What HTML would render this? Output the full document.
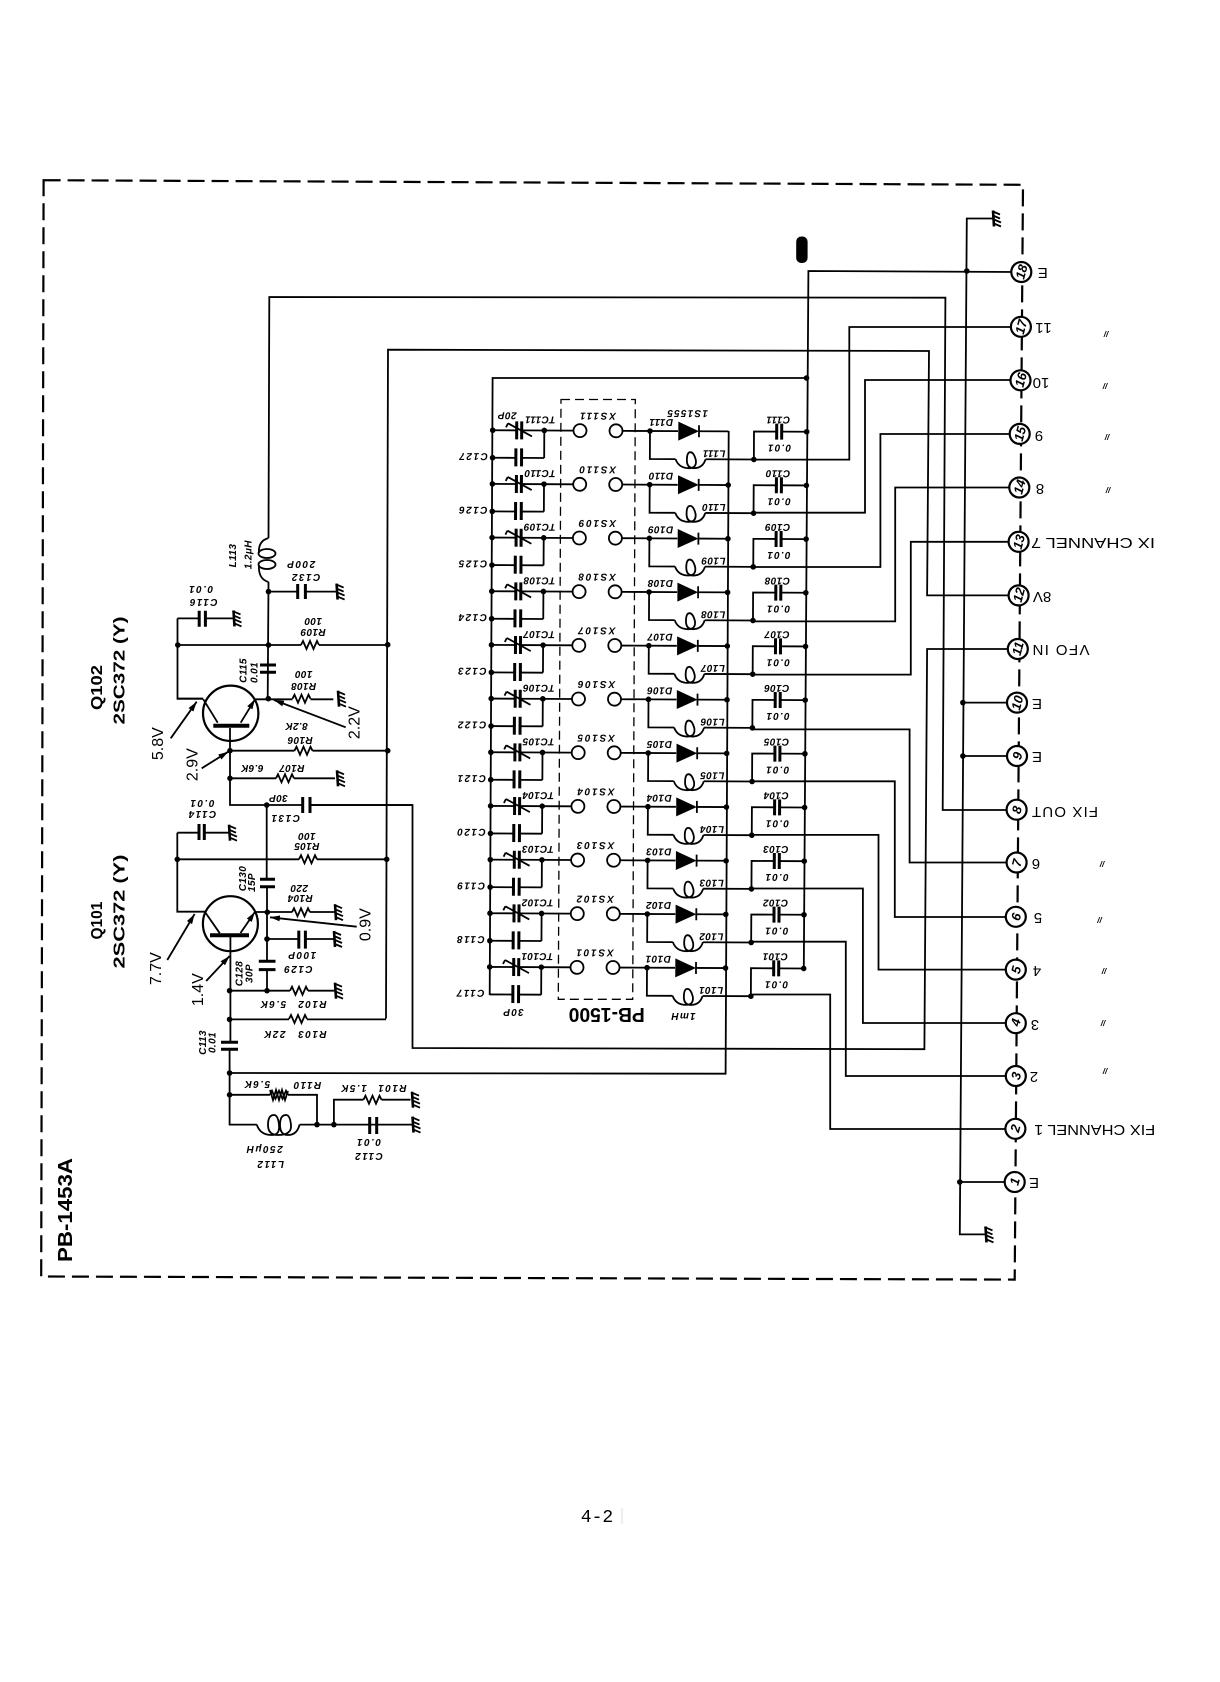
<!DOCTYPE html>
<html><head><meta charset="utf-8"><style>
html,body{margin:0;padding:0;background:#fff;width:1220px;height:1682px;overflow:hidden}
svg{display:block}
text{font-family:"Liberation Sans",sans-serif;fill:#000;text-anchor:middle}
.u,.v,.r{transform-box:fill-box;transform-origin:center}
.u{transform:rotate(180deg)}
.v{transform:rotate(-90deg)}
.r{transform:rotate(-75deg)}
.s{font-size:10px;font-style:italic;font-weight:bold;letter-spacing:.4px}
.x{letter-spacing:1.8px}
.z{letter-spacing:1.2px}
.c{letter-spacing:1.5px}
.t{font-size:13px;font-style:italic;font-weight:bold}
.l{font-size:15px}
.m{font-size:8px;font-style:italic;font-weight:bold}
.b{font-size:16px}
.w{fill:none;stroke:#000;stroke-width:1.8}
.p{fill:none;stroke:#000;stroke-width:3}
</style></head><body>
<svg width="1220" height="1682" viewBox="0 0 1220 1682" xmlns="http://www.w3.org/2000/svg">
<defs>
<marker id="a" viewBox="0 0 10 6" refX="10" refY="3" markerWidth="10" markerHeight="6" markerUnits="userSpaceOnUse" orient="auto"><path d="M0 0L10 3L0 6z"/></marker>
<g id="d"><circle r="2.8" fill="#000"/></g>
<g id="res"><rect x="-9" y="-2" width="18" height="4" fill="#fff"/><path class="w" d="M-9 0L-7 -4L-3.5 4L0 -4L3.5 4L7 -4L9 0"/></g>
<g id="g"><path fill="none" stroke="#000" stroke-width="2.6" d="M0 -8L1 8"/><path fill="none" stroke="#000" stroke-width="1.8" d="M0 -7l7 3M0 -3l7 3M1 1l7 3M1 5l7 3"/></g>
<g id="row">
<path class="w" d="M492.7 431H516.7M521.7 431H573.5M544.3 431V458.5M492.7 458.5H516M521.7 458.5H544.3M622.5 431H678M699 431H728.5M650 431V459H675.7M705.7 459H754V431H776.7M781.7 431H806.7"/>
<path class="w" d="M675.7 459Q679 468 689 468Q697 468 696 460Q694 452 690.5 452Q687 452 687 460Q687 468 694 468Q703 468 705.7 459"/>
<path class="p" d="M516.7 422V440M521.7 422V440M516 449V467M521.7 449V467M776.7 423V439M781.7 423V439"/>
<path class="w" d="M532 437L508 424M508 424L506 428"/>
<circle cx="580" cy="431" r="6.5" fill="#fff" stroke="#000" stroke-width="1.8"/>
<circle cx="616" cy="431" r="6.5" fill="#fff" stroke="#000" stroke-width="1.8"/>
<path d="M678.3 421.5L699 431L678.3 440.5z"/><path class="w" d="M699 425V437"/>
<use href="#d" x="492.7" y="431"/><use href="#d" x="544.3" y="431"/><use href="#d" x="650" y="431"/><use href="#d" x="754" y="459"/><use href="#d" x="806.7" y="431"/>
</g>
<g id="dr"><use href="#d" x="728.5" y="431"/></g>
<g id="db"><use href="#d" x="492.7" y="458.5"/></g>
</defs>

<!-- border -->
<path fill="none" stroke="#000" stroke-width="2.2" stroke-dasharray="17 7" d="M43.6 180.2L1023 184.8L1014.7 1279.6L41.2 1276.5Z"/>
<!-- PB-1500 box -->
<path fill="none" stroke="#000" stroke-width="1.3" stroke-dasharray="9 5" d="M561 399.5H635.3L632.7 999.3H558.3Z"/>

<!-- nets -->
<path class="w" d="M1021 272L808.4 271L803.8 968.5M806.5 378H492.6L489.7 995"/>
<path class="w" d="M1021 327H849.3V459.6H754M1020 380H865V512.7H754M1020 434H880.4V567H754M1019 487.5H895.2V621.4H754M1018 541.8H910.8V674.6H753M1016 862.5H909.6V729.4H752.5M1016 917H894.8V781.3H752M1016 969.6H878.5V834.9H752M1016 1023H862.9V888.5H751.5M1016 1076H845.8V941.7H751M1015 1129H830.2V994.5H751"/>
<path class="w" d="M1016.6 810H942.7L945.4 297.7L269.3 297L268.5 538M1018 595.4H927.1L929 351L388 349.7L386 1018.6M1018 649H927.1L924.4 1049.2L412.5 1048V805H310"/>
<path class="w" d="M728.7 431L725.6 1073.7L229.6 1073M993 218.5H966.8L959.8 1234.4H985.5M1017 702.6H962.9M1017 756H962.9M1015 1182H959.8"/>
<use href="#g" x="993" y="218.5"/><use href="#g" x="985.5" y="1234.4"/>
<use href="#d" x="966.8" y="271"/><use href="#d" x="962.9" y="702.6"/><use href="#d" x="962.9" y="756"/><use href="#d" x="959.8" y="1182"/><use href="#d" x="806.5" y="378"/>
<rect x="796.2" y="236.5" width="11.4" height="26.5" rx="5"/>

<!-- rows -->
<g transform="rotate(.28 650 431)"><use href="#row"/><use href="#db"/>
<text class="s u" x="540" y="422">TC111</text><text class="s x u" x="598" y="418">XS111</text><text class="s u" x="661" y="424">D111</text><text class="s u" x="714" y="455">L111</text><text class="s u" x="778" y="421">C111</text><text class="s z u" x="779" y="449">0.01</text><text class="s c u" x="473" y="459">C127</text><text class="s u" x="508" y="418">20P</text><text class="s z u" x="687" y="415">1S1555</text></g>
<g transform="translate(-.3 53.67) rotate(.28 650 431)"><use href="#row"/><use href="#db"/><use href="#dr"/>
<text class="s u" x="540" y="422">TC110</text><text class="s x u" x="598" y="418">XS110</text><text class="s u" x="661" y="424">D110</text><text class="s u" x="714" y="455">L110</text><text class="s u" x="778" y="421">C110</text><text class="s z u" x="779" y="449">0.01</text><text class="s c u" x="473" y="459">C126</text></g>
<g transform="translate(-.6 107.34) rotate(.28 650 431)"><use href="#row"/><use href="#db"/><use href="#dr"/>
<text class="s u" x="540" y="422">TC109</text><text class="s x u" x="598" y="418">XS109</text><text class="s u" x="661" y="424">D109</text><text class="s u" x="714" y="455">L109</text><text class="s u" x="778" y="421">C109</text><text class="s z u" x="779" y="449">0.01</text><text class="s c u" x="473" y="459">C125</text></g>
<g transform="translate(-.9 161) rotate(.28 650 431)"><use href="#row"/><use href="#db"/><use href="#dr"/>
<text class="s u" x="540" y="422">TC108</text><text class="s x u" x="598" y="418">XS108</text><text class="s u" x="661" y="424">D108</text><text class="s u" x="714" y="455">L108</text><text class="s u" x="778" y="421">C108</text><text class="s z u" x="779" y="449">0.01</text><text class="s c u" x="473" y="459">C124</text></g>
<g transform="translate(-1.2 214.68) rotate(.28 650 431)"><use href="#row"/><use href="#db"/><use href="#dr"/>
<text class="s u" x="540" y="422">TC107</text><text class="s x u" x="598" y="418">XS107</text><text class="s u" x="661" y="424">D107</text><text class="s u" x="714" y="455">L107</text><text class="s u" x="778" y="421">C107</text><text class="s z u" x="779" y="449">0.01</text><text class="s c u" x="473" y="459">C123</text></g>
<g transform="translate(-1.5 268.35) rotate(.28 650 431)"><use href="#row"/><use href="#db"/><use href="#dr"/>
<text class="s u" x="540" y="422">TC106</text><text class="s x u" x="598" y="418">XS106</text><text class="s u" x="661" y="424">D106</text><text class="s u" x="714" y="455">L106</text><text class="s u" x="778" y="421">C106</text><text class="s z u" x="779" y="449">0.01</text><text class="s c u" x="473" y="459">C122</text></g>
<g transform="translate(-1.8 322) rotate(.28 650 431)"><use href="#row"/><use href="#db"/><use href="#dr"/>
<text class="s u" x="540" y="422">TC105</text><text class="s x u" x="598" y="418">XS105</text><text class="s u" x="661" y="424">D105</text><text class="s u" x="714" y="455">L105</text><text class="s u" x="778" y="421">C105</text><text class="s z u" x="779" y="449">0.01</text><text class="s c u" x="473" y="459">C121</text></g>
<g transform="translate(-2.1 375.7) rotate(.28 650 431)"><use href="#row"/><use href="#db"/><use href="#dr"/>
<text class="s u" x="540" y="422">TC104</text><text class="s x u" x="598" y="418">XS104</text><text class="s u" x="661" y="424">D104</text><text class="s u" x="714" y="455">L104</text><text class="s u" x="778" y="421">C104</text><text class="s z u" x="779" y="449">0.01</text><text class="s c u" x="473" y="459">C120</text></g>
<g transform="translate(-2.4 429.4) rotate(.28 650 431)"><use href="#row"/><use href="#db"/><use href="#dr"/>
<text class="s u" x="540" y="422">TC103</text><text class="s x u" x="598" y="418">XS103</text><text class="s u" x="661" y="424">D103</text><text class="s u" x="714" y="455">L103</text><text class="s u" x="778" y="421">C103</text><text class="s z u" x="779" y="449">0.01</text><text class="s c u" x="473" y="459">C119</text></g>
<g transform="translate(-2.7 483) rotate(.28 650 431)"><use href="#row"/><use href="#db"/><use href="#dr"/>
<text class="s u" x="540" y="422">TC102</text><text class="s x u" x="598" y="418">XS102</text><text class="s u" x="661" y="424">D102</text><text class="s u" x="714" y="455">L102</text><text class="s u" x="778" y="421">C102</text><text class="s z u" x="779" y="449">0.01</text><text class="s c u" x="473" y="459">C118</text></g>
<g transform="translate(-3 536.7) rotate(.28 650 431)"><use href="#row"/><use href="#dr"/>
<text class="s u" x="540" y="422">TC101</text><text class="s x u" x="598" y="418">XS101</text><text class="s u" x="661" y="424">D101</text><text class="s u" x="714" y="455">L101</text><text class="s u" x="778" y="421">C101</text><text class="s z u" x="779" y="449">0.01</text><text class="s c u" x="473" y="459">C117</text></g>
<text class="s z u" x="513" y="1014">30P</text>
<text class="s z u" x="683" y="1018">1mH</text>
<text class="u" x="606.7" y="1020" font-size="20" font-weight="bold" textLength="76" lengthAdjust="spacingAndGlyphs">PB-1500</text>

<!-- terminals -->
<g fill="#fff" stroke="#000" stroke-width="2.2">
<circle cx="1021.3" cy="272" r="10"/><circle cx="1020.9" cy="326.8" r="10"/><circle cx="1020.5" cy="380.3" r="10"/><circle cx="1019.7" cy="433.9" r="10"/><circle cx="1019.3" cy="487.5" r="10"/><circle cx="1018.6" cy="541.8" r="10"/><circle cx="1018.6" cy="595.4" r="10"/><circle cx="1017.8" cy="649" r="10"/><circle cx="1017" cy="702.6" r="10"/><circle cx="1017" cy="756" r="10"/><circle cx="1016.6" cy="809.7" r="10"/><circle cx="1016.6" cy="862.5" r="10"/><circle cx="1015.8" cy="916.8" r="10"/><circle cx="1015.8" cy="969.6" r="10"/><circle cx="1015.8" cy="1023.2" r="10"/><circle cx="1015.8" cy="1076" r="10"/><circle cx="1015.4" cy="1128.8" r="10"/><circle cx="1014.7" cy="1182" r="10"/>
</g>
<text class="t r" x="1021.3" y="276">18</text><text class="t r" x="1020.9" y="331">17</text><text class="t r" x="1020.5" y="384">16</text><text class="t r" x="1019.7" y="438">15</text><text class="t r" x="1019.3" y="491">14</text><text class="t r" x="1018.6" y="546">13</text><text class="t r" x="1018.6" y="599">12</text><text class="t r" x="1017.8" y="653">11</text><text class="t r" x="1017" y="707">10</text><text class="t r" x="1017" y="760">9</text><text class="t r" x="1016.6" y="814">8</text><text class="t r" x="1016.6" y="867">7</text><text class="t r" x="1015.8" y="921">6</text><text class="t r" x="1015.8" y="974">5</text><text class="t r" x="1015.8" y="1027">4</text><text class="t r" x="1015.8" y="1080">3</text><text class="t r" x="1015.4" y="1133">2</text><text class="t r" x="1014.7" y="1186">1</text>

<text class="l u" x="1042.7" y="277">E</text><text class="l u" x="1043" y="332" letter-spacing="1">11</text><text class="l u" x="1041" y="387">10</text><text class="l u" x="1039" y="440">9</text><text class="l u" x="1040" y="493">8</text>
<text class="l u" x="1093" y="547" textLength="124" lengthAdjust="spacingAndGlyphs">IX  CHANNEL 7</text>
<text class="l u" x="1042" y="601">8V</text>
<text class="l u" x="1061" y="654" textLength="57" lengthAdjust="spacing">VFO IN</text>
<text class="l u" x="1037" y="708">E</text><text class="l u" x="1037" y="761">E</text>
<text class="l u" x="1065" y="816" textLength="66" lengthAdjust="spacing">FIX OUT</text>
<text class="l u" x="1036" y="868">6</text><text class="l u" x="1038" y="922">5</text><text class="l u" x="1037" y="975">4</text><text class="l u" x="1035" y="1029">3</text><text class="l u" x="1034" y="1081">2</text>
<text class="l u" x="1094.7" y="1134" textLength="121" lengthAdjust="spacingAndGlyphs">FIX CHANNEL 1</text>
<text class="l u" x="1034" y="1187">E</text>
<text class="m" x="1106" y="337">//</text><text class="m" x="1105" y="389">//</text><text class="m" x="1107" y="440">//</text><text class="m" x="1108" y="493">//</text><text class="m" x="1102" y="867">//</text><text class="m" x="1099.5" y="923">//</text><text class="m" x="1104" y="974">//</text><text class="m" x="1103" y="1026">//</text><text class="m" x="1105" y="1074">//</text>

<!-- Q102 stage -->
<path class="w" d="M268.5 582L267.7 698.7M177.8 645H387.7M177.5 618.4V698.7H203M268.5 591.6H297.7M305.4 591.6H336M177.5 618.4H199.2M205.4 618.4H233.5"/>
<path class="w" d="M268.5 538Q258 541 259 553M259 565Q258 579 268.5 582"/>
<ellipse class="w" cx="267" cy="553.5" rx="8.5" ry="4.5"/><ellipse class="w" cx="267" cy="564.5" rx="8.5" ry="4.5"/>
<path class="p" d="M297.7 584V599M305.4 584V599M199.2 610.7V626.8M205.4 610.7V626.8M260 665H276M260 672.3H276"/>
<use href="#d" x="268.5" y="591.6"/><use href="#d" x="268.5" y="645"/><use href="#d" x="177.8" y="645"/><use href="#d" x="387.7" y="644.7"/>
<use href="#g" x="336.6" y="591.6"/><use href="#g" x="233.5" y="618.4"/>
<use href="#res" x="310" y="645"/>
<circle cx="230.7" cy="713.3" r="27.7" fill="none" stroke="#000" stroke-width="2.2"/>
<path stroke="#000" stroke-width="4" d="M213.3 725.7H249.3"/>
<path class="w" d="M230 728V778.3V805H266.7M203.3 699.3L217.7 722.7M203.3 698.7H177M255 699.3H268.3H333.3M230 750.7H387.7M230 778.3H335M266.7 805H302.7M310 805H412"/>
<path class="w" marker-end="url(#a)" d="M240.7 722.7L255 699.3"/>
<use href="#res" x="301.5" y="698.7"/><use href="#res" x="303.5" y="750.7"/><use href="#res" x="285" y="778.3"/>
<use href="#g" x="338" y="698.7"/><use href="#g" x="337" y="778.3"/>
<use href="#d" x="268.3" y="698.7"/><use href="#d" x="230" y="750.7"/><use href="#d" x="230" y="778.3"/><use href="#d" x="266.7" y="805"/><use href="#d" x="387.7" y="750.7"/>
<path class="p" d="M302.7 797V813M310 797V813"/>

<!-- Q101 stage -->
<path class="w" d="M266.7 805V879.3M267 886.7V961.2M267 969.6V990.7M177.3 859.3H386.7M177.3 832.7V911.7H205M177.3 832.7H199M204.3 832.7H229"/>
<path class="p" d="M199 824V840M204.3 824V840M260 879.3H275M260 886.7H275M298.8 930.6V948.6M305.4 930.6V948.6M258.8 961.2H275.5M258.8 969.6H275.5M221 1042.3H238M221 1049.2H238"/>
<circle cx="230.4" cy="923.7" r="27.5" fill="none" stroke="#000" stroke-width="2.2"/>
<path stroke="#000" stroke-width="4" d="M210 935.2H249"/>
<path class="w" d="M230.4 937V1042.3M229.6 1049.2V1073V1094.8V1124.6H256.8M205 912L219.8 933.3M254.9 912H334.6M267 939H298.8M305.4 939H334M229.6 990.7H334.6M229.6 1019.4H386M229.6 1094.8H317V1124.6H299.6M317 1124.6H412.5M333.9 1124.6V1099.7H410.5"/>
<path class="w" marker-end="url(#a)" d="M240.5 933L254.9 912"/>
<path class="w" d="M256.8 1124.6Q260 1135 272 1135Q280 1135 279 1125Q278 1115 274 1115Q268 1115 268 1125Q268 1135 278 1135Q292 1135 291 1125Q290 1115 286 1115Q280 1115 280 1125Q280 1135 288 1135Q297 1135 299.6 1124.6"/>
<use href="#res" x="308" y="859.3"/><use href="#res" x="301" y="912.2"/><use href="#res" x="299" y="990.7"/><use href="#res" x="298" y="1019"/><use href="#res" x="279" y="1094.8"/><use href="#res" x="372.5" y="1099.7"/>
<path class="w" d="M270 1090L273 1100L276 1090L279 1100L282 1090L285 1100L288 1091"/>
<path class="p" d="M369.7 1117V1134M376.7 1117V1134"/>
<use href="#g" x="229" y="832.7"/><use href="#g" x="335" y="912.2"/><use href="#g" x="334" y="939"/><use href="#g" x="335" y="990.7"/><use href="#g" x="412" y="1099.7"/><use href="#g" x="412.5" y="1124.6"/>
<use href="#d" x="177.3" y="859.3"/><use href="#d" x="386.7" y="859.3"/><use href="#d" x="267.3" y="912.2"/><use href="#d" x="267" y="939"/><use href="#d" x="267" y="990.7"/><use href="#d" x="229.6" y="990.7"/><use href="#d" x="229.6" y="1019.4"/><use href="#d" x="229.6" y="1073"/><use href="#d" x="229.6" y="1094.8"/><use href="#d" x="317" y="1124.6"/><use href="#d" x="333.9" y="1124.6"/>

<!-- voltage arrows -->
<g class="w">
<path marker-end="url(#a)" d="M170.7 738.3L196.7 701.7"/><path marker-end="url(#a)" d="M345.7 727.3L274 700"/><path marker-end="url(#a)" d="M201.7 768.3L228.3 751.7"/><path marker-end="url(#a)" d="M356.7 926.7L270 917.3"/><path marker-end="url(#a)" d="M167.3 960L194.6 914"/><path marker-end="url(#a)" d="M206.2 981L229.6 956"/>
</g>
<text class="b v" x="158.3" y="748">5.8V</text><text class="b v" x="355" y="727">2.2V</text><text class="b v" x="192.7" y="769">2.9V</text><text class="b v" x="366" y="929">0.9V</text><text class="b v" x="156.4" y="973">7.7V</text><text class="b v" x="198.4" y="994">1.4V</text>

<text class="b v" x="97.3" y="692" font-weight="bold" textLength="45" lengthAdjust="spacingAndGlyphs">Q102</text>
<text class="b v" x="120" y="675" font-weight="bold" textLength="108" lengthAdjust="spacingAndGlyphs">2SC372 (Y)</text>
<text class="b v" x="97.3" y="925" font-weight="bold" textLength="38" lengthAdjust="spacingAndGlyphs">Q101</text>
<text class="b v" x="120" y="916" font-weight="bold" textLength="114" lengthAdjust="spacingAndGlyphs">2SC372 (Y)</text>
<text class="v" x="66" y="1216" font-size="20" font-weight="bold" textLength="104" lengthAdjust="spacingAndGlyphs">PB-1453A</text>

<!-- left labels -->
<text class="s v" x="233.5" y="558">L113</text><text class="s v" x="249" y="557">1.2μH</text>
<text class="s v" x="244" y="673">C115</text><text class="s v" x="255" y="675">0.01</text>
<text class="s v" x="243.3" y="881">C130</text><text class="s v" x="252.7" y="885">15P</text>
<text class="s v" x="240" y="976">C128</text><text class="s v" x="250" y="976">30P</text>
<text class="s v" x="203.3" y="1045">C113</text><text class="s v" x="213" y="1045">0.01</text>
<text class="s c u" x="305.4" y="579">C132</text><text class="s c u" x="301.5" y="566">200P</text>
<text class="s c u" x="203" y="604">C116</text><text class="s c u" x="200.4" y="591">0.01</text>
<text class="s u" x="313" y="634">R109</text><text class="s u" x="313" y="623">100</text>
<text class="s u" x="303.5" y="688">R108</text><text class="s u" x="303.5" y="676">100</text>
<text class="s u" x="296" y="728">8.2K</text><text class="s u" x="300" y="742">R106</text>
<text class="s u" x="291.7" y="770">R107</text><text class="s u" x="251.7" y="770">6.6K</text>
<text class="s u" x="278.3" y="800">30P</text><text class="s c u" x="285" y="820">C131</text>
<text class="s c u" x="201.7" y="816">C114</text><text class="s c u" x="201.7" y="805">0.01</text>
<text class="s u" x="306.7" y="848">R105</text><text class="s u" x="306.7" y="838">100</text>
<text class="s u" x="300" y="900">R104</text><text class="s u" x="300" y="890">220</text>
<text class="s c u" x="297.7" y="971">C129</text><text class="s c u" x="301.6" y="957">100P</text>
<text class="s c u" x="311.7" y="1006">R102</text><text class="s c u" x="272.7" y="1006">5.6K</text>
<text class="s c u" x="311.7" y="1036">R103</text><text class="s c u" x="275" y="1036">22K</text>
<text class="s c u" x="306.7" y="1087">R110</text><text class="s c u" x="256.7" y="1086">5.6K</text>
<text class="s c u" x="391.7" y="1090">R101</text><text class="s c u" x="353.3" y="1090">1.5K</text>
<text class="s c u" x="270" y="1166">L112</text><text class="s c u" x="265" y="1151">250μH</text>
<text class="s c u" x="368.3" y="1158">C112</text><text class="s c u" x="368.3" y="1144">0.01</text>

<!-- footer -->
<text x="597" y="1522" font-size="18" style="font-family:'Liberation Mono',monospace" fill="#333">4-2</text>
<path d="M622 1508V1524" stroke="#ddd" stroke-width="1"/>
</svg>
</body></html>
